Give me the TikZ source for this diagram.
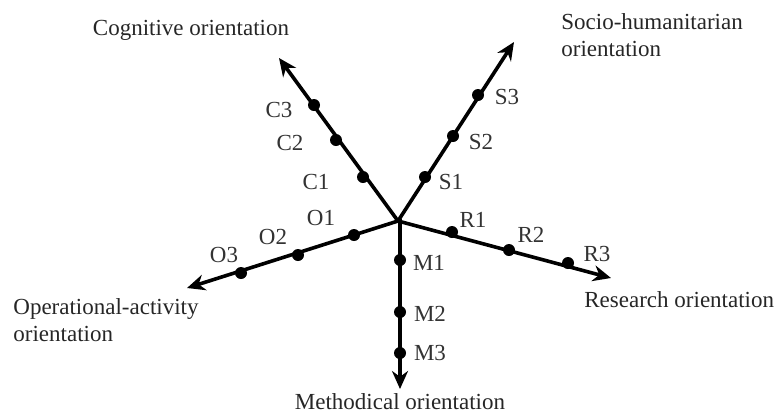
\documentclass[tikz,border=0pt]{standalone}
\usepackage{fontspec}
\setmainfont{Liberation Serif}
\usetikzlibrary{arrows.meta, positioning}
\tikzset{
  axis/.style={-{Stealth[length=9pt,width=8pt]}, line width=1.8pt},
  pt/.style={circle, fill=black, inner sep=0pt, minimum size=6pt},
  lvl/.style={font=\fontsize{11.5}{13}\selectfont, text=black!80, inner sep=1pt},
  orient/.style={font=\fontsize{11.5}{13.5}\selectfont, text=black!85, inner sep=1pt},
}

\begin{document}
\begin{tikzpicture}[x=0.5pt, y=-0.5pt]
  \useasboundingbox (0,0) rectangle (782,414);

  % ---- Centre and arrow tips ----
  \coordinate (o) at (398,221);
  \coordinate (cT) at (279,58);
  \coordinate (sT) at (514,42);
  \coordinate (oT) at (187,288);
  \coordinate (rT) at (611,278);
  \coordinate (mT) at (400,389);

  % ---- Axes ----
  \draw[axis] (o) -- (cT);
  \draw[axis] (o) -- (sT);
  \draw[axis] (o) -- (oT);
  \draw[axis] (o) -- (rT);
  \draw[axis] (o) -| (mT);

  % ---- Points on axes ----
  \node[pt] (c1) at (363,177) {};
  \node[pt] (c2) at (336,140) {};
  \node[pt] (c3) at (314,105) {};
  \node[pt] (s1) at (425,177) {};
  \node[pt] (s2) at (453,136) {};
  \node[pt] (s3) at (478,95) {};
  \node[pt] (o1) at (354,235) {};
  \node[pt] (o2) at (298,255) {};
  \node[pt] (o3) at (241,273) {};
  \node[pt] (r1) at (452,232) {};
  \node[pt] (r2) at (509,250) {};
  \node[pt] (r3) at (568,263) {};
  \node[pt] (m1) at (400,260) {};
  \node[pt] (m2) at (400,312) {};
  \node[pt] (m3) at (400,353) {};

  % ---- Point labels ----
  \node[lvl] at (279,110) {C3};
  \node[lvl] at (290,143) {C2};
  \node[lvl] at (316,182) {C1};
  \node[lvl] at (507,97)  {S3};
  \node[lvl] at (481,142) {S2};
  \node[lvl] at (451,182) {S1};
  \node[lvl] at (321,218) {O1};
  \node[lvl] at (273,237) {O2};
  \node[lvl] at (224,255) {O3};
  \node[lvl] at (473,220) {R1};
  \node[lvl] at (531,235) {R2};
  \node[lvl] at (597,254) {R3};
  \node[lvl] at (429,263) {M1};
  \node[lvl] at (430,314) {M2};
  \node[lvl] at (430,353) {M3};

  % ---- Orientation names ----
  \node[orient] (cog) at (191,30) {Cognitive orientation};
  \node[orient, anchor=west, align=left] (soc) at (559,35)
       {Socio-humanitarian\\orientation};
  \node[orient, anchor=west, align=left] (ops) at (11,320)
       {Operational-activity\\orientation};
  \node[orient, anchor=west] (res) at (582,300) {Research orientation};
  \node[orient] (met) at (400,402) {Methodical orientation};
\end{tikzpicture}
\end{document}
